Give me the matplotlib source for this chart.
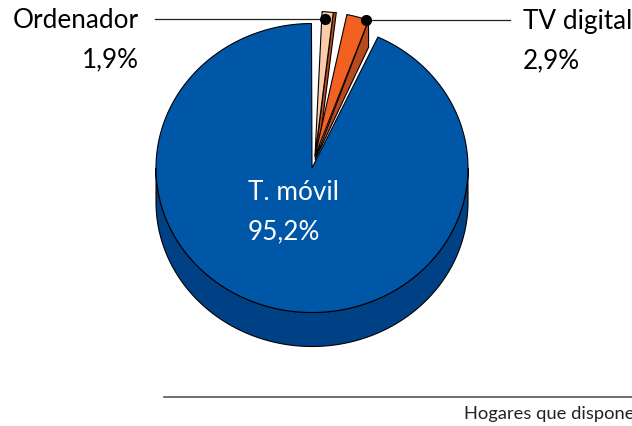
#!/usr/bin/env python3
# -*- coding: utf-8 -*-
import numpy as np
import matplotlib
matplotlib.use('Agg')
import matplotlib.pyplot as plt
from matplotlib.patches import Polygon

plt.rcParams['font.family'] = ['Lato', 'DejaVu Sans']

categorias = ['T. móvil', 'Ordenador', 'TV digital']
etiquetas = ['95,2%', '1,9%', '2,9%']
# porcentaje como esta dibujado en la imagen (no coincide con las etiquetas)
dibujado = [93.0, 1.15, 2.3]
# angulo inicial de cada porcion, desde arriba en sentido horario
inicio = [25.0, 2.6, 11.8]

colores = ['#0057A8', '#FBCBAA', '#F26122']
colores_lado = ['#004085', '#B84A1C', '#B84A1C']

CX, CY = 312, 168
RX, RY = 156, 144.5
PROF = 34


def punto(ang, cx=CX, cy=CY):
    t = np.radians(ang)
    return cx + RX*np.sin(t), cy - RY*np.cos(t)


def porcion(a1, a2, cx=CX, cy=CY):
    angs = np.linspace(a1, a2, 200)
    xs, ys = punto(angs, cx, cy)
    return np.vstack([[cx, cy], np.column_stack([xs, ys])])


fig = plt.figure(figsize=(6.32, 4.26), dpi=100)
ax = fig.add_axes([0, 0, 1, 1])
ax.set_xlim(0, 632)
ax.set_ylim(426, 0)
ax.axis('off')

# lado 3D de la porcion grande
angs = np.linspace(90, 270, 200)
xs, ys = punto(angs)
lado = np.vstack([np.column_stack([xs, ys]),
                  np.column_stack([xs[::-1], ys[::-1] + PROF])])
ax.add_patch(Polygon(lado, fc=colores_lado[0], ec='black', lw=0.8, zorder=1))

# porcion T. movil
a1 = inicio[0]
ax.add_patch(Polygon(porcion(a1, a1 + dibujado[0]*3.6), fc=colores[0],
                     ec='black', lw=0.8, zorder=2))

# porciones separadas
centro_sep = (315, 156)
for i in [1, 2]:
    a1 = inicio[i]
    a2 = a1 + dibujado[i]*3.6
    cx, cy = centro_sep
    x2, y2 = punto(a2, cx, cy)
    if i == 1:
        lado_p = [(cx, cy + 2), (x2, y2), (x2 + 3, y2), (cx + 4, cy - 8)]
    else:
        lado_p = [(cx, cy + 4), (x2, y2), (x2, y2 + 27)]
    ax.add_patch(Polygon(lado_p, fc=colores_lado[i], ec='black', lw=0.8, zorder=3))
    ax.add_patch(Polygon(porcion(a1, a2, cx, cy), fc=colores[i], ec='black',
                         lw=0.8, zorder=4))

# lineas guia
ax.plot([155, 325], [19, 19], color='#222222', lw=0.9, zorder=5)
ax.plot([366, 510], [20, 20], color='#222222', lw=0.9, zorder=5)
ax.plot([325, 366], [19, 20], 'o', color='black', ms=7, ls='none', zorder=6)
ax.plot([164, 632], [397, 397], color='#555555', lw=1.2)

# textos
fs = 18.8
ax.text(139, 21, categorias[1], ha='right', va='center', fontsize=fs, color='black')
ax.text(139, 60, etiquetas[1], ha='right', va='center', fontsize=fs, color='black')
ax.text(523, 22, categorias[2], ha='left', va='center', fontsize=fs, color='black')
ax.text(523, 61, etiquetas[2], ha='left', va='center', fontsize=fs, color='black')
ax.text(248, 192, categorias[0], ha='left', va='center', fontsize=fs, color='white', zorder=7)
ax.text(248, 232, etiquetas[0], ha='left', va='center', fontsize=fs, color='white', zorder=7)
ax.text(464, 414, 'Hogares que disponen', ha='left', va='center', fontsize=13.2,
        color='#222222', clip_on=True)

fig.savefig('out.png', dpi=100)
